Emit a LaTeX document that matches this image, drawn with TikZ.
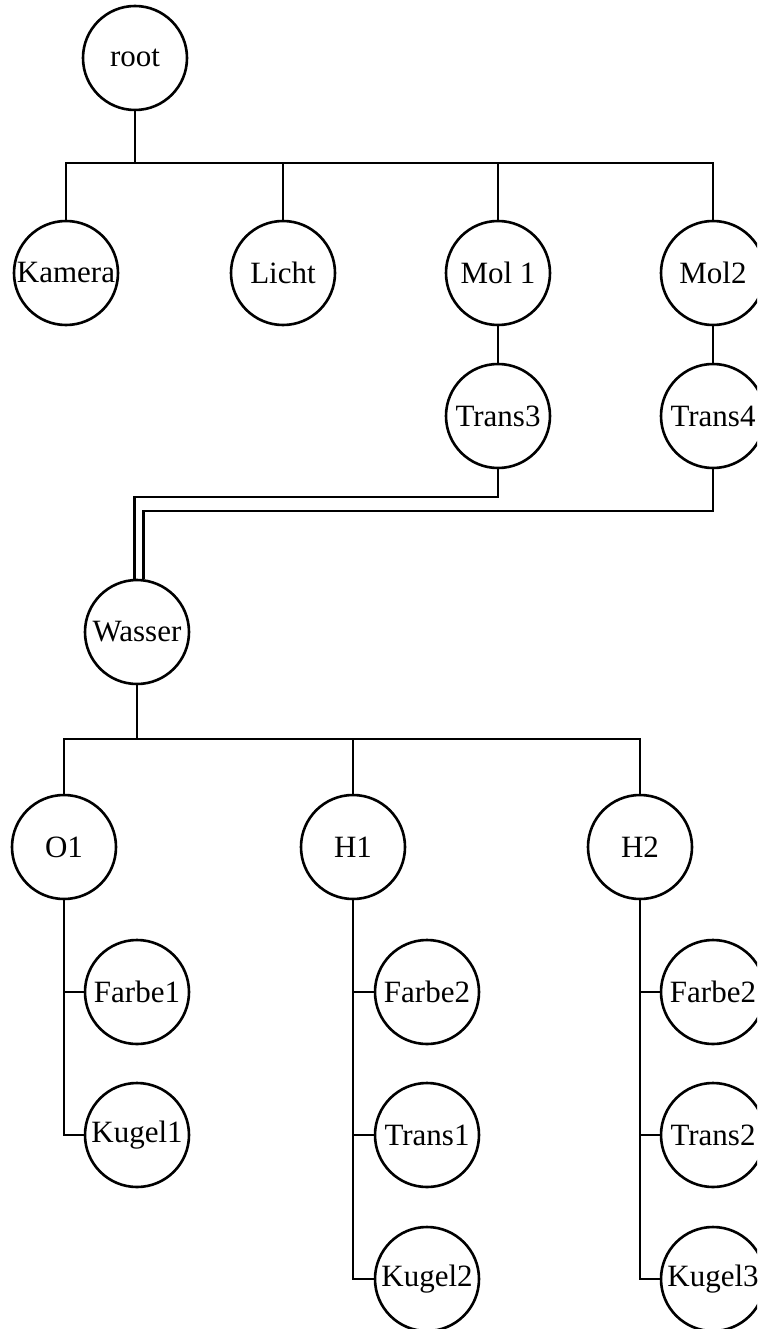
\documentclass[tikz,border=0pt]{standalone}
\usepackage{fontspec}
\setmainfont{Liberation Serif}
\begin{document}
\begin{tikzpicture}[x=1pt,y=-1pt,
  nd/.style={draw, circle, minimum size=104pt, inner sep=0pt, line width=2.6pt, font=\fontsize{31}{36}\selectfont},
  ln/.style={line width=2.6pt}]
\useasboundingbox (0,0) rectangle (757,1329);
\clip (0,0) rectangle (757,1329);
\node[nd] (root) at (135,58) {root};
\node[nd] (kamera) at (66,273) {Kamera};
\node[nd] (licht) at (283,273) {Licht};
\node[nd] (mol1) at (498,273) {Mol 1};
\node[nd] (mol2) at (713,273) {Mol2};
\node[nd] (trans3) at (498,416) {Trans3};
\node[nd] (trans4) at (713,416) {Trans4};
\node[nd] (wasser) at (137,632) {Wasser};
\node[nd] (o1) at (64,847) {O1};
\node[nd] (h1) at (353,847) {H1};
\node[nd] (h2) at (640,847) {H2};
\node[nd] (farbe1) at (137,992) {Farbe1};
\node[nd] (kugel1) at (137,1135) {Kugel1};
\node[nd] (farbe2a) at (427,992) {Farbe2};
\node[nd] (trans1) at (427,1135) {Trans1};
\node[nd] (kugel2) at (427,1279) {Kugel2};
\node[nd] (farbe2b) at (713,992) {Farbe2};
\node[nd] (trans2) at (713,1135) {Trans2};
\node[nd] (kugel3) at (713,1279) {Kugel3};
\coordinate (bara) at (0,163);
\coordinate (barb) at (0,739);
\coordinate (jt3) at (0,497);
\coordinate (jt4) at (0,511);
\foreach \c in {kamera,licht,mol1,mol2}
  \draw[ln] (root.south) -- (root.south |- bara) -| (\c.north);
\draw[ln] (mol1) -- (trans3);
\draw[ln] (mol2) -- (trans4);
\draw[ln] (trans3.south) -- (trans3.south |- jt3) -| (wasser.93);
\draw[ln] (trans4.south) -- (trans4.south |- jt4) -| (wasser.83);
\foreach \c in {o1,h1,h2}
  \draw[ln] (wasser.south) -- (wasser.south |- barb) -| (\c.north);
\foreach \c in {farbe1,kugel1}
  \draw[ln] (o1.south) |- (\c.west);
\foreach \c in {farbe2a,trans1,kugel2}
  \draw[ln] (h1.south) |- (\c.west);
\foreach \c in {farbe2b,trans2,kugel3}
  \draw[ln] (h2.south) |- (\c.west);
\end{tikzpicture}
\end{document}
